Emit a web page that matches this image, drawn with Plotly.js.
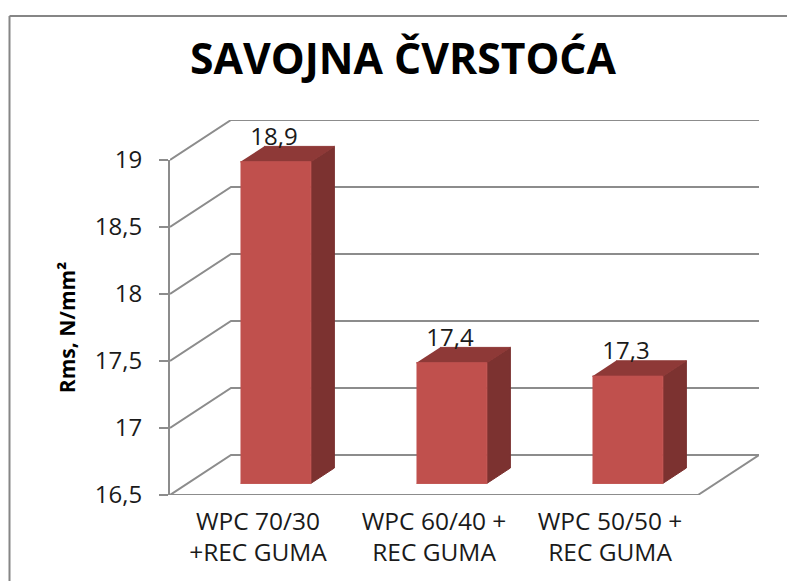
<!DOCTYPE html>
<html><head><meta charset="utf-8">
<script src="https://cdn.plot.ly/plotly-3.0.1.min.js"></script>
<style>html,body{margin:0;padding:0;background:#fff}#c{width:787px;height:581px}</style>
</head><body><div id="c"></div>
<script>
const categories=["WPC 70/30<br>+REC GUMA","WPC 60/40 +<br>REC GUMA","WPC 50/50 +<br>REC GUMA"];
const values=[18.9,17.4,17.3];
const valueLabels=["18,9","17,4","17,3"];
const yTicks=[16.5,17,17.5,18,18.5,19];
const yTickLabels=["16,5","17","17,5","18","18,5","19"];
const titleText="SAVOJNA ČVRSTOĆA";
const yTitle="Rms, N/mm²";

const yMin=16.5, yMax=19;
// oblique projection, in axis units
const wallDX=61/176, wallDY=40/134;
const barFront=0.29, barDepth=0.385, barWidth=0.4;
const GRID='#8c8c8c';
const traces=[];
const common={cliponaxis:false,hoverinfo:'skip',showlegend:false,xaxis:'x2',yaxis:'y2'};
function proj(x,y,d){return [x+d*wallDX,y+d*wallDY];}
function poly(pts,color){
  traces.push({...common,type:'scatter',mode:'lines',x:pts.map(p=>p[0]),y:pts.map(p=>p[1]),fill:'toself',fillcolor:color,
    line:{color:color,width:1}});
}
// trace on the main axes: front edge of the floor
traces.push({type:'scatter',mode:'lines',x:[0,3],y:[yMin,yMin],line:{color:GRID,width:2},cliponaxis:false,hoverinfo:'skip',showlegend:false});
yTicks.forEach(v=>{
  const p=[proj(0,v,0),proj(0,v,1),proj(3,v,1)];
  traces.push({...common,type:'scatter',mode:'lines',x:p.map(q=>q[0]),y:p.map(q=>q[1]),line:{color:GRID,width:2}});
});
const fl=[proj(3,yMin,0),proj(3,yMin,1)];
traces.push({...common,type:'scatter',mode:'lines',x:fl.map(q=>q[0]),y:fl.map(q=>q[1]),line:{color:GRID,width:2}});
values.forEach((v,i)=>{
  const xl=i+0.5-barWidth/2, xr=i+0.5+barWidth/2, d0=barFront, d1=barFront+barDepth;
  poly([proj(xr,yMin,d0),proj(xr,yMin,d1),proj(xr,v,d1),proj(xr,v,d0)],'#7c3230');
  poly([proj(xl,v,d0),proj(xr,v,d0),proj(xr,v,d1),proj(xl,v,d1)],'#8e3937');
  poly([proj(xl,yMin,d0),proj(xr,yMin,d0),proj(xr,v,d0),proj(xl,v,d0)],'#c0504d');
});
const lab=values.map((v,i)=>proj(i+0.5,v,barFront));
traces.push({...common,type:'scatter',mode:'text',x:lab.map(p=>p[0]-0.01),y:lab.map(p=>p[1]+0.082),text:valueLabels,textposition:'top center',
  textfont:{family:'Open Sans',size:24,color:'#1a1a1a'}});

const W=589,H=375,L=170,T=120;
const px=x=>(x-L)/W, py=y=>1-(y-T)/H;
const layout={
  width:787,height:581,margin:{l:L,t:T,r:787-L-W,b:581-T-H},paper_bgcolor:'#fff',plot_bgcolor:'rgba(0,0,0,0)',
  showlegend:false,
  font:{family:'Open Sans',color:'#1a1a1a'},
  title:{text:'<b>'+titleText+'</b>',xref:'container',yref:'container',x:403/787,xanchor:'center',y:1-59/581,yanchor:'middle',font:{family:'Open Sans',size:42.7,color:'#000'}},
  xaxis:{domain:[0,528/589],range:[0,3],tickmode:'array',tickvals:[0.5,1.5,2.5],ticktext:categories,showgrid:false,zeroline:false,showline:false,ticks:'',
    tickfont:{family:'Open Sans',size:24.5,color:'#1a1a1a'},ticklabelstandoff:9,fixedrange:true},
  yaxis:{domain:[0,335/375],range:[yMin,yMax],tickmode:'array',tickvals:yTicks,ticktext:yTickLabels,showgrid:false,zeroline:false,showline:true,linecolor:GRID,linewidth:2,
    ticks:'outside',ticklen:9,tickwidth:2,tickcolor:GRID,tickfont:{family:'Open Sans',size:24,color:'#1a1a1a'},ticklabelstandoff:12,
    title:{text:'<b>'+yTitle+'</b>',font:{family:'Open Sans',size:21,color:'#000'},standoff:13},fixedrange:true},
  xaxis2:{domain:[0,1],range:[0,3+wallDX],anchor:'y2',visible:false,fixedrange:true},
  yaxis2:{domain:[0,1],range:[yMin,yMax+wallDY],anchor:'x2',visible:false,fixedrange:true},
  shapes:[
    {type:'line',xref:'paper',yref:'paper',x0:px(9.5),x1:px(9.5),y0:py(16),y1:py(581),line:{color:'#868686',width:2}},
    {type:'line',xref:'paper',yref:'paper',x0:px(9.5),x1:px(787),y0:py(16),y1:py(16),line:{color:'#868686',width:2}}
  ]
};
Plotly.newPlot('c',traces,layout,{displayModeBar:false,staticPlot:true});
</script></body></html>
